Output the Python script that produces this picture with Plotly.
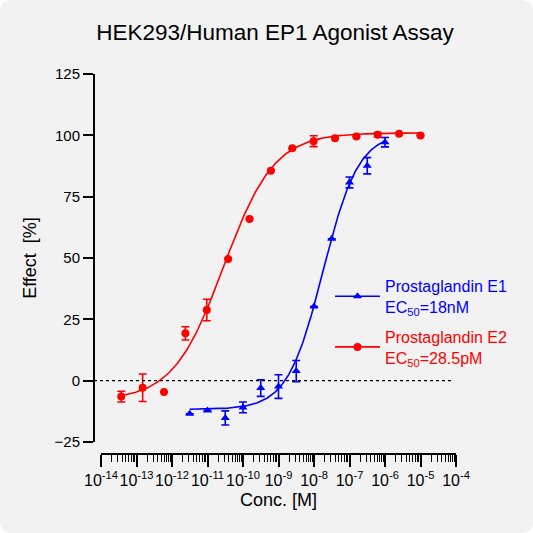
import numpy as np
import plotly.graph_objects as go

# Prostaglandin E1 (blue triangles), half-log dilutions
e1_conc = [3.16e-12, 1e-11, 3.16e-11, 1e-10, 3.16e-10, 1e-9,
           3.16e-9, 1e-8, 3.16e-8, 1e-7, 3.16e-7, 1e-6]
e1_effect = [-13.5, -12.2, -15.2, -10.9, -3.0, -2.4, 3.9, 30.2, 57.8, 80.8, 87.6, 97.2]
e1_err = [None, None, 2.9, 2.2, 3.4, 4.8, 4.3, None, None, 2.2, 3.3, 1.9]

# Prostaglandin E2 (red circles), 4-fold dilutions
e2_conc = [3.725e-14, 1.49e-13, 5.96e-13, 2.384e-12, 9.537e-12, 3.815e-11, 1.526e-10,
           6.104e-10, 2.441e-9, 9.766e-9, 3.906e-8, 1.5625e-7, 6.25e-7, 2.5e-6, 1e-5]
e2_effect = [-6.5, -2.9, -4.6, 19.3, 28.8, 49.6, 65.9, 85.6, 94.7, 97.6, 98.8, 99.5, 100.2, 100.6, 99.9]
e2_err = [2.2, 5.6, None, 2.7, 4.4, None, None, None, None, 2.2, None, None, 0.9, None, None]

# 4-parameter logistic fits (bottom, top, EC50 [M], hill)
e1_fit = (-11.7, 101.0, 18e-9, 0.87)
e2_fit = (-8.0, 101.0, 28.5e-12, 0.61)

x_ticks = [1e-14, 1e-13, 1e-12, 1e-11, 1e-10, 1e-9, 1e-8, 1e-7, 1e-6, 1e-5, 1e-4]
x_labels = ['10<sup>-14</sup>', '10<sup>-13</sup>', '10<sup>-12</sup>', '10<sup>-11</sup>',
            '10<sup>-10</sup>', '10<sup>-9</sup>', '10<sup>-8</sup>', '10<sup>-7</sup>',
            '10<sup>-6</sup>', '10<sup>-5</sup>', '10<sup>-4</sup>']
x_minor = [m * d for d in x_ticks[:-1] for m in range(2, 10)]
y_ticks = [-25, 0, 25, 50, 75, 100, 125]

BLUE = '#0000ff'
RED = '#ff0000'
FONT = 'Liberation Sans, Arial, sans-serif'


def logistic(conc, params):
    bottom, top, ec50, hill = params
    conc = np.asarray(conc)
    return bottom + (top - bottom) / (1 + (ec50 / conc) ** hill)


e1_curve_x = np.logspace(np.log10(e1_conc[0]), np.log10(e1_conc[-1]), 200)
e2_curve_x = np.logspace(np.log10(e2_conc[0]), np.log10(e2_conc[-1]), 200)

fig = go.Figure()

# fitted curves
fig.add_trace(go.Scatter(x=e1_curve_x, y=logistic(e1_curve_x, e1_fit), mode='lines',
                         line=dict(color=BLUE, width=1.6), showlegend=False, hoverinfo='skip'))
fig.add_trace(go.Scatter(x=e2_curve_x, y=logistic(e2_curve_x, e2_fit), mode='lines',
                         line=dict(color=RED, width=1.6), showlegend=False, hoverinfo='skip'))

# data points with error bars
fig.add_trace(go.Scatter(x=e1_conc, y=e1_effect, mode='markers',
                         marker=dict(symbol='triangle-up', size=8, color=BLUE),
                         error_y=dict(type='data', array=e1_err, color=BLUE, thickness=1.6, width=4),
                         showlegend=False))
fig.add_trace(go.Scatter(x=e2_conc, y=e2_effect, mode='markers',
                         marker=dict(symbol='circle', size=8, color=RED),
                         error_y=dict(type='data', array=e2_err, color=RED, thickness=1.6, width=4),
                         showlegend=False))

# legend entries
fig.add_trace(go.Scatter(x=[None], y=[None], mode='lines+markers', legendgroup='e1',
                         line=dict(color=BLUE, width=1.6),
                         marker=dict(symbol='triangle-up', size=8, color=BLUE),
                         name="<span style='color:#0000ff'>Prostaglandin E1</span><br>"
                              "<span style='color:#0000ff'>EC<sub>50</sub>=18nM</span>"))
fig.add_trace(go.Scatter(x=[None], y=[None], mode='lines+markers', legendgroup='e2',
                         line=dict(color=RED, width=1.6),
                         marker=dict(symbol='circle', size=8, color=RED),
                         name="<span style='color:#ff0000'>Prostaglandin E2</span><br>"
                              "<span style='color:#ff0000'>EC<sub>50</sub>=28.5pM</span>"))

# plot area in pixels: left 94, right 456, top 74, bottom 454
L, R, T, B = 94, 456, 74, 454
W, H = 533, 533


def px(xp):
    return (xp - L) / (R - L)


def py(yp):
    return (B - yp) / (B - T)


# rounded background card
r = 12
x0, x1, y0, y1 = px(0), px(W), py(0), py(H)
rx, ry = r / (R - L), r / (B - T)
card = (f'M {x0 + rx},{y0} L {x1 - rx},{y0} Q {x1},{y0} {x1},{y0 - ry} '
        f'L {x1},{y1 + ry} Q {x1},{y1} {x1 - rx},{y1} '
        f'L {x0 + rx},{y1} Q {x0},{y1} {x0},{y1 + ry} '
        f'L {x0},{y0 - ry} Q {x0},{y0} {x0 + rx},{y0} Z')

fig.update_layout(
    width=W, height=H,
    margin=dict(l=L, r=W - R, t=T, b=H - B, pad=0),
    paper_bgcolor='white',
    plot_bgcolor='rgba(0,0,0,0)',
    font=dict(family=FONT, color='black'),
    title=dict(text='HEK293/Human EP1 Agonist Assay', font=dict(size=22.5, color='black'),
               x=275 / W, xanchor='center', xref='container',
               y=1 - 32 / H, yanchor='middle'),
    shapes=[
        dict(type='path', path=card, xref='paper', yref='paper', layer='below',
             fillcolor='#f2f2f2', line=dict(width=0)),
        dict(type='line', xref='paper', yref='y', x0=0, x1=px(453), y0=0, y1=0,
             line=dict(color='black', width=1.4, dash='dot')),
    ],
    legend=dict(x=px(330), y=py(269), xanchor='left', yanchor='top',
                bgcolor='rgba(0,0,0,0)', font=dict(size=16),
                tracegroupgap=6, itemwidth=45),
    showlegend=True,
)

fig.update_xaxes(
    type='log', range=[-14, -4], domain=[px(101), 1], anchor='free', position=0,
    showline=True, linecolor='black', linewidth=2, showgrid=False, zeroline=False,
    tickmode='array', tickvals=x_ticks, ticktext=x_labels, tickangle=0,
    ticks='outside', ticklen=12, tickwidth=1.6, tickcolor='black',
    tickfont=dict(size=16),
    minor=dict(tickmode='array', tickvals=x_minor, ticks='outside', ticklen=7,
               tickwidth=1, tickcolor='black', showgrid=False),
    title=dict(text='Conc. [M]', font=dict(size=18), standoff=4),
)
fig.update_yaxes(
    range=[-25, 125], domain=[py(442), 1], anchor='free', position=0,
    showline=True, linecolor='black', linewidth=2, showgrid=False, zeroline=False,
    tickmode='array', tickvals=y_ticks,
    ticks='outside', ticklen=10, tickwidth=1.6, tickcolor='black',
    tickfont=dict(size=15),
    title=dict(text='Effect\u00a0 [%]', font=dict(size=18), standoff=12),
)

fig.write_html('out.html', config={'displayModeBar': False},
               post_script="document.body.style.margin='0';")
